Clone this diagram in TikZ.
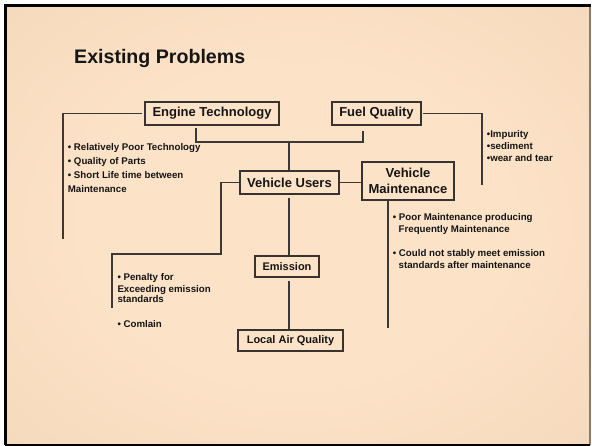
\documentclass[tikz,border=0pt]{standalone}
\usepackage{fontspec}
\setmainfont{Liberation Sans}
\definecolor{bgl}{HTML}{FCE2C7}
\definecolor{bgm}{HTML}{F0D3B5}
\definecolor{bgd}{HTML}{E0C2A3}
\definecolor{boxc}{HTML}{383330}
\definecolor{linec}{HTML}{3C3835}
\definecolor{txt}{HTML}{151515}
\definecolor{rborder}{HTML}{8A7A6A}
\pgfdeclareradialshading{slidebg}{\pgfpoint{0bp}{0bp}}{color(0bp)=(bgl); color(18bp)=(bgl); color(50bp)=(bgm); color(72bp)=(bgd)}
\begin{document}
\begin{tikzpicture}[x=1pt,y=-1pt,
  box/.style={draw=boxc,line width=1.2pt,inner sep=0pt,align=center,text=txt,
    font=\bfseries\fontsize{13}{16}\selectfont},
  smallbox/.style={box,font=\bfseries\fontsize{11}{13}\selectfont},
  conn/.style={draw=linec,line width=1.3pt},
  bul/.style={anchor=base west,inner sep=0pt,text=txt,
    font=\bfseries\fontsize{9.7}{12}\selectfont},
  titlestyle/.style={anchor=base west,inner sep=0pt,text=txt,
    font=\bfseries\fontsize{19.6}{22}\selectfont}]
\useasboundingbox (0,0) rectangle (592,446);
\fill[white] (0,0) rectangle (592,446);
\shade[shading=slidebg] (5,5) rectangle (590,445);
\draw[rborder,line width=2pt] (590,5) -- (590,445);
\draw[black,line width=2pt] (5,445) -- (590,445);
\draw[black,line width=2.6pt] (591,5.3) -- (5.3,5.3) -- (5.3,445);

% title
\node[titlestyle] (title) at (74,63.5) {Existing Problems};

% boxes
\node[box,minimum width=134pt,minimum height=23pt] (et) at (212,113.5) {Engine Technology};
\node[box,minimum width=89pt,minimum height=23pt] (fq) at (376.5,113.5) {Fuel Quality};
\node[box,minimum width=99pt,minimum height=23pt] (vu) at (289.5,182.5) {Vehicle Users};
\node[box,minimum width=92pt,minimum height=38pt] (vm) at (408,181) {Vehicle\\Maintenance};
\node[smallbox,minimum width=64pt,minimum height=21pt] (em) at (287,266.5) {Emission};
\node[smallbox,minimum width=105pt,minimum height=21pt] (laq) at (290.5,340.5) {Local Air Quality};

% free ends and junctions
\coordinate (etend) at (63,239);
\coordinate (jt) at (289,142);
\coordinate (vuc) at (221,254);
\coordinate (vuend) at (112,308);
\coordinate (fqend) at (482,185);
\coordinate (vmend) at (388,328);

% connectors
\draw[conn,shorten <=2pt] (et.west) -| (etend);
\draw[conn] ([xshift=-16pt,yshift=-2.5pt]et.south) |- (jt) -| ([xshift=-13.5pt,yshift=-5pt]fq.south);
\draw[conn] (jt) -- (jt |- vu.north);
\draw[conn] (vu.west) -| (vuc) -| (vuend);
\draw[conn] (vu.east) -- (vm.west |- vu.east);
\draw[conn,shorten <=1pt] (fq.east) -| (fqend);
\draw[conn] ([xshift=-20pt]vm.south) -- (vmend);
\draw[conn,shorten <=3pt] (jt |- vu.south) -- (jt |- em.north);
\draw[conn,shorten <=3pt] (jt |- em.south) -- (jt |- laq.north);

% bullet texts
\node[bul] (e1) at (67.7,151) {• Relatively Poor Technology};
\node[bul] (e2) at (67.7,165) {• Quality of Parts};
\node[bul] (e3) at (67.7,179) {• Short Life time between};
\node[bul] (e4) at (67.7,193) {Maintenance};

\node[bul] (f1) at (486.7,138) {•Impurity};
\node[bul] (f2) at (486.7,150) {•sediment};
\node[bul] (f3) at (486.7,161.5) {•wear and tear};

\node[bul] (m1) at (392.7,221) {• Poor Maintenance producing};
\node[bul] (m2) at (398.5,232.3) {Frequently Maintenance};
\node[bul] (m3) at (392.7,257) {• Could not stably meet emission};
\node[bul] (m4) at (398.5,268.3) {standards after maintenance};

\node[bul] (p1) at (117.3,281) {• Penalty for};
\node[bul] (p2) at (117.3,292.3) {Exceeding emission};
\node[bul] (p3) at (117.3,303) {standards};
\node[bul] (p4) at (117.3,327.7) {• Comlain};
\end{tikzpicture}
\end{document}
